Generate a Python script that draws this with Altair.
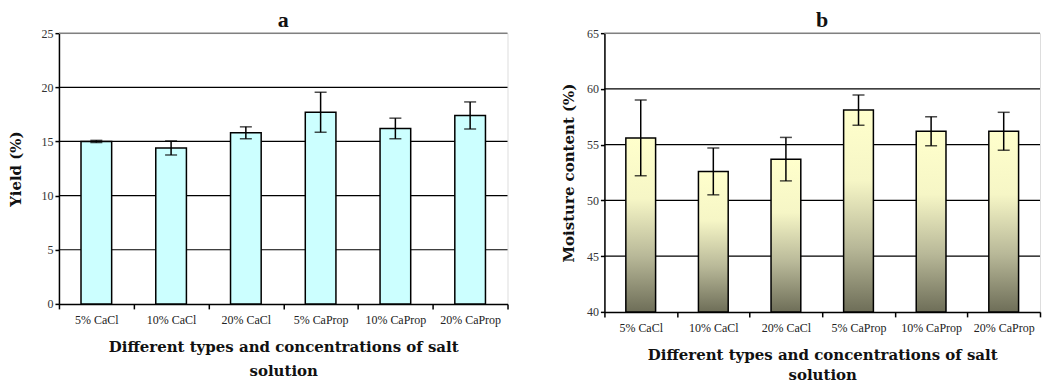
import altair as alt
import pandas as pd

categories = ["5% CaCl", "10% CaCl", "20% CaCl", "5% CaProp", "10% CaProp", "20% CaProp"]
yield_values = [15.0, 14.4, 15.8, 17.7, 16.2, 17.4]
yield_errors = [0.1, 0.65, 0.55, 1.85, 0.95, 1.25]
moisture_values = [55.6, 52.6, 53.7, 58.1, 56.2, 56.2]
moisture_errors = [3.4, 2.1, 1.95, 1.35, 1.3, 1.7]
yield_grid = [5, 10, 15, 20]
moisture_grid = [45, 50, 55, 60]

SERIF = "Liberation Serif"
BOLDFONT = "DejaVu Serif"

df_a = pd.DataFrame({"cat": categories, "v": yield_values, "e": yield_errors})
df_a["lo"] = df_a["v"] - df_a["e"]
df_a["hi"] = df_a["v"] + df_a["e"]
df_b = pd.DataFrame({"cat": categories, "v": moisture_values, "e": moisture_errors})
df_b["lo"] = df_b["v"] - df_b["e"]
df_b["hi"] = df_b["v"] + df_b["e"]

xtitle = ["Different types and concentrations of salt", "solution"]


def panel(df, grid, dom, ytitle, title, fill, w, h, ytitlepad, xtitlepad, xlinegap):
    x = alt.X("cat:N", sort=categories, scale=alt.Scale(paddingInner=0, paddingOuter=0),
              axis=alt.Axis(title=xtitle, labelAngle=0, tickBand="extent", tickSize=5,
                            tickColor="black", tickWidth=1.5, domainColor="black", domainWidth=1.5,
                            labelFont=SERIF, labelFontSize=12, labelColor="#222", labelPadding=6,
                            titleFont=BOLDFONT, titleFontSize=15, titleFontWeight="bold",
                            titleColor="#111", titlePadding=xtitlepad, titleLineHeight=xlinegap,
                            grid=False))
    yscale = alt.Scale(domain=dom, nice=False, zero=False)
    y = alt.Y("v:Q", scale=yscale,
              axis=alt.Axis(title=ytitle, values=list(range(dom[0], dom[1] + 1, 5)), grid=False,
                            tickSize=4, tickColor="black", tickWidth=1.5, domainColor="black",
                            domainWidth=1.5, labelFont=SERIF, labelFontSize=12, labelColor="#333",
                            labelPadding=2, titleFont=BOLDFONT, titleFontSize=15, titleFontWeight="bold",
                            titleColor="#111", titlePadding=ytitlepad))
    gdf = pd.DataFrame({"g": grid})
    gridrule = alt.Chart(gdf).mark_rule(color="black", strokeWidth=1.2).encode(
        y=alt.Y("g:Q", scale=yscale))
    topdf = pd.DataFrame({"g": [dom[1]]})
    toprule = alt.Chart(topdf).mark_rule(color="#808080", strokeWidth=1.5).encode(
        y=alt.Y("g:Q", scale=yscale))
    bars = alt.Chart(df).mark_bar(fill=fill, stroke="black", strokeWidth=1.5,
                                  width=alt.RelativeBandSize(0.41)).encode(
        x=x, y=y, y2=alt.datum(dom[0]))
    rule = alt.Chart(df).mark_rule(color="black", strokeWidth=1.5).encode(
        x=alt.X("cat:N", sort=categories), y=alt.Y("lo:Q", scale=yscale), y2="hi:Q")
    cap_lo = alt.Chart(df).mark_tick(color="black", thickness=1.5, size=12, orient="horizontal").encode(
        x=alt.X("cat:N", sort=categories), y=alt.Y("lo:Q", scale=yscale))
    cap_hi = alt.Chart(df).mark_tick(color="black", thickness=1.5, size=12, orient="horizontal").encode(
        x=alt.X("cat:N", sort=categories), y=alt.Y("hi:Q", scale=yscale))
    return alt.layer(gridrule, toprule, bars, rule, cap_lo, cap_hi).properties(
        width=w, height=h,
        title=alt.TitleParams(title, font=SERIF, fontSize=22, fontWeight="bold", color="#111",
                              anchor="middle", offset=-5))


grad = alt.Gradient(gradient="linear", x1=0, x2=0, y1=0, y2=1,
                    stops=[alt.GradientStop(color="#FFFFCC", offset=0),
                           alt.GradientStop(color="#F6F6C6", offset=0.35),
                           alt.GradientStop(color="#B8B898", offset=0.68),
                           alt.GradientStop(color="#6E6E58", offset=1)])

a = panel(df_a, yield_grid, [0, 25], "Yield (%)", "a", "#CCFFFF", 449, 271, 17, 14, 24)
b = panel(df_b, moisture_grid, [40, 65], "Moisture content (%)", "b", grad, 436, 279, 10, 14, 20)

chart = alt.hconcat(a, b, spacing=51).properties(padding=0).configure_view(
    stroke="#C0C0C0", strokeWidth=1.5).configure(background="white")
chart.save("out.html", embed_options={"renderer": "svg", "actions": False})
